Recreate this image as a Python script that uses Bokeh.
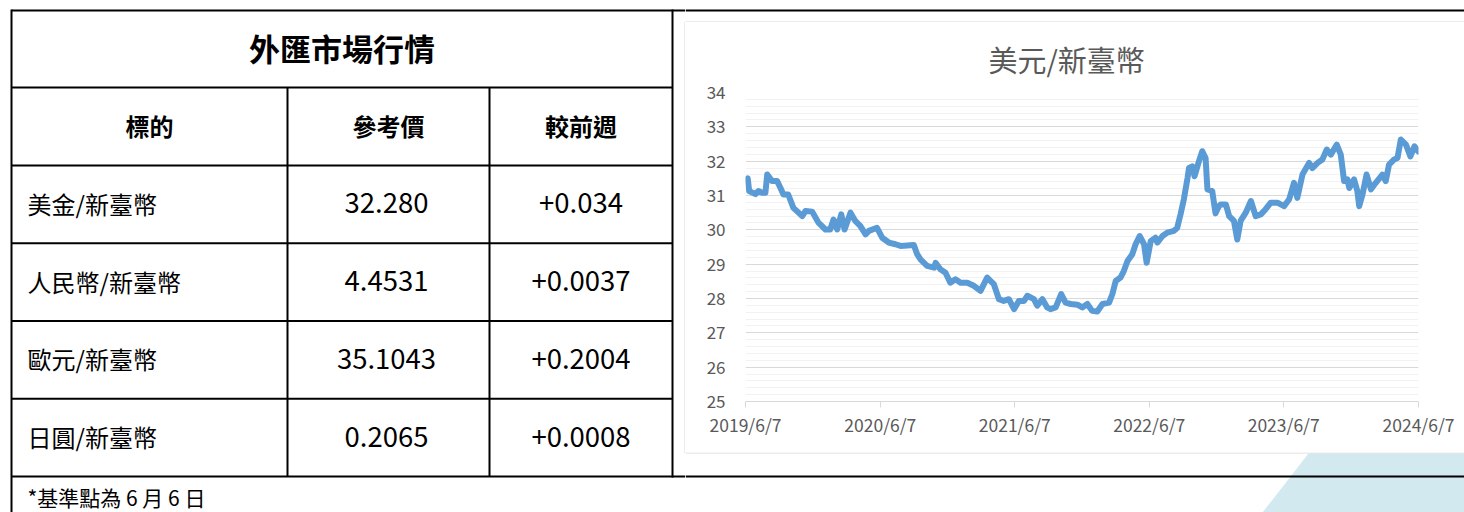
from datetime import datetime
import pandas as pd
from bokeh.plotting import figure
from bokeh.layouts import row, column
from bokeh.models import Range1d, FixedTicker, SingleIntervalTicker, ColumnDataSource
from bokeh.core.properties import value
from bokeh.embed import file_html
from bokeh.resources import INLINE

# ---------------- data ----------------
table_title = "外匯市場行情"
headers = ["標的", "參考價", "較前週"]
pairs = ["美金/新臺幣", "人民幣/新臺幣", "歐元/新臺幣", "日圓/新臺幣"]
ref_prices = ["32.280", "4.4531", "35.1043", "0.2065"]
weekly_change = ["+0.034", "+0.0037", "+0.2004", "+0.0008"]
footnote = "*基準點為 6 月 6 日"

chart_title = "美元/新臺幣"
usd_dates = [
    "2019-06-10", "2019-06-13", "2019-06-17", "2019-07-04", "2019-07-12", "2019-07-22", "2019-07-31", "2019-08-05", "2019-08-18", "2019-09-01",
    "2019-09-10", "2019-09-18", "2019-10-01", "2019-10-15", "2019-10-29", "2019-11-08", "2019-11-17", "2019-12-05", "2019-12-22", "2020-01-10",
    "2020-01-23", "2020-02-01", "2020-02-11", "2020-02-22", "2020-03-02", "2020-03-18", "2020-03-31", "2020-04-14", "2020-04-28", "2020-05-07",
    "2020-05-29", "2020-06-12", "2020-06-30", "2020-07-18", "2020-08-01", "2020-09-06", "2020-09-15", "2020-09-24", "2020-10-12", "2020-10-31",
    "2020-11-04", "2020-11-17", "2020-12-01", "2020-12-14", "2020-12-28", "2021-01-11", "2021-01-29", "2021-02-16", "2021-03-06", "2021-03-24",
    "2021-04-11", "2021-04-25", "2021-05-08", "2021-05-22", "2021-06-05", "2021-06-18", "2021-07-02", "2021-07-11", "2021-07-29", "2021-08-07",
    "2021-08-21", "2021-09-03", "2021-09-12", "2021-09-26", "2021-10-11", "2021-10-23", "2021-11-06", "2021-11-24", "2021-12-07", "2021-12-21",
    "2022-01-03", "2022-01-17", "2022-01-31", "2022-02-18", "2022-02-27", "2022-03-08", "2022-03-21", "2022-03-30", "2022-04-09", "2022-04-22",
    "2022-05-01", "2022-05-12", "2022-05-24", "2022-05-31", "2022-06-11", "2022-06-24", "2022-06-29", "2022-07-13", "2022-07-26", "2022-08-13",
    "2022-08-22", "2022-08-31", "2022-09-09", "2022-09-19", "2022-09-23", "2022-10-02", "2022-10-08", "2022-10-20", "2022-10-29", "2022-11-07",
    "2022-11-12", "2022-11-25", "2022-12-04", "2022-12-13", "2022-12-18", "2023-01-01", "2023-01-10", "2023-01-23", "2023-02-01", "2023-02-10",
    "2023-02-24", "2023-03-10", "2023-03-23", "2023-04-06", "2023-04-19", "2023-05-03", "2023-05-21", "2023-06-08", "2023-06-22", "2023-07-05",
    "2023-07-14", "2023-07-28", "2023-08-15", "2023-08-24", "2023-09-07", "2023-09-20", "2023-10-02", "2023-10-13", "2023-10-29", "2023-11-09",
    "2023-11-18", "2023-11-27", "2023-12-02", "2023-12-15", "2023-12-24", "2023-12-29", "2024-01-07", "2024-01-18", "2024-01-30", "2024-02-12",
    "2024-03-01", "2024-03-10", "2024-03-19", "2024-04-02", "2024-04-11", "2024-04-20", "2024-05-04", "2024-05-16", "2024-05-27", "2024-06-07",
]
usd_values = [
    31.45, 31.50, 31.13, 31.04, 31.13, 31.08, 31.08, 31.61, 31.42, 31.42,
    31.22, 31.03, 31.03, 30.64, 30.50, 30.40, 30.55, 30.53, 30.21, 30.01,
    30.01, 30.30, 30.01, 30.45, 30.01, 30.50, 30.26, 30.11, 29.87, 29.97,
    30.06, 29.77, 29.63, 29.58, 29.53, 29.56, 29.29, 29.14, 28.95, 28.90,
    29.04, 28.85, 28.75, 28.46, 28.56, 28.46, 28.46, 28.37, 28.22, 28.61,
    28.42, 27.98, 27.93, 27.98, 27.69, 27.93, 27.93, 28.08, 27.98, 27.79,
    27.98, 27.74, 27.69, 27.74, 28.13, 27.88, 27.84, 27.82, 27.74, 27.84,
    27.64, 27.62, 27.84, 27.88, 28.13, 28.51, 28.61, 28.80, 29.09, 29.29,
    29.58, 29.82, 29.58, 29.04, 29.67, 29.77, 29.63, 29.82, 29.92, 29.97,
    30.06, 30.45, 30.89, 31.51, 31.80, 31.85, 31.56, 32.00, 32.29, 32.09,
    31.18, 31.13, 30.48, 30.69, 30.74, 30.74, 30.40, 30.26, 29.72, 30.26,
    30.50, 30.84, 30.40, 30.45, 30.60, 30.79, 30.79, 30.69, 30.89, 31.37,
    30.93, 31.61, 31.95, 31.80, 31.95, 32.05, 32.34, 32.19, 32.48, 32.19,
    31.42, 31.47, 31.22, 31.47, 31.13, 30.69, 31.03, 31.61, 31.18, 31.37,
    31.61, 31.42, 31.90, 32.05, 32.09, 32.63, 32.48, 32.14, 32.43, 32.28,
]
tick_dates = ["2019-06-07", "2020-06-07", "2021-06-07", "2022-06-07", "2023-06-07", "2024-06-07"]
tick_labels = ["2019/6/7", "2020/6/7", "2021/6/7", "2022/6/7", "2023/6/7", "2024/6/7"]
y_min, y_max = 25, 34

# ---------------- styling ----------------
FONT = "Noto Sans CJK TC"
CJK = value(FONT)
GRAY_TXT = "#595959"
PANEL = "#d9d9d9"
BLUE_BG = "#d3e9f0"
W, H = 1464, 512
SPLIT = 685            # left edge of the chart panel
PANEL_TOP, PANEL_BOT = 22, 452


def no_align(f):
    if hasattr(f, "frame_align"):
        f.frame_align = False
    return f


def canvas(width, height, x0, x1, ytop, ybot):
    f = figure(width=width, height=height, x_range=Range1d(x0, x1), y_range=Range1d(ybot, ytop),
               toolbar_location=None, output_backend="svg", min_border=0)
    f.axis.visible = False
    f.grid.visible = False
    f.outline_line_color = None
    f.background_fill_color = "white"
    f.border_fill_color = "white"
    return no_align(f)


# ---------------- table (left) ----------------
t = canvas(SPLIT, H, 0, SPLIT, 0, H)
L, R, C1, C2 = 11, 672, 287, 489
top_y, title_bot, head_bot = 10, 87, 165
n = len(pairs)
row_h = (476 - head_bot) / n
row_lines = [head_bot + i * row_h for i in range(n + 1)]
bottom_y = row_lines[-1]

hy = [top_y, title_bot] + row_lines[:-1] + [bottom_y]
hx1 = [SPLIT, R] + [R] * n + [SPLIT]
t.segment(x0=[L] * len(hy), y0=hy, x1=hx1, y1=hy, line_color="black", line_width=2)
t.segment(x0=[L, R, C1, C2], y0=[top_y - 1, top_y - 1, title_bot, title_bot],
          x1=[L, R, C1, C2], y1=[H, bottom_y + 1, bottom_y, bottom_y], line_color="black", line_width=2)
t.segment(x0=[SPLIT - 0.5], y0=[PANEL_TOP - 0.5], x1=[SPLIT - 0.5], y1=[PANEL_BOT + 0.5],
          line_color=PANEL, line_width=1)

t.text(x=[(L + R) / 2], y=[(top_y + title_bot) / 2 - 2], text=[table_title], text_font=CJK,
       text_font_size="31px", text_font_style="bold", text_align="center", text_baseline="middle", text_color="black")
head_x = [(L + C1) / 2, (C1 + C2) / 2, (C2 + R) / 2]
t.text(x=head_x, y=[(title_bot + head_bot) / 2 - 1] * 3, text=headers, text_font=CJK,
       text_font_size="24px", text_font_style="bold", text_align="center", text_baseline="middle", text_color="black")
row_c = [head_bot + (i + 0.5) * row_h - 1 for i in range(n)]
t.text(x=[L + 16] * n, y=row_c, text=pairs, text_font=CJK, text_font_size="24px",
       text_align="left", text_baseline="middle", text_color="black")
t.text(x=[head_x[1] - 2] * n, y=row_c, text=ref_prices, text_font=CJK, text_font_size="27.5px",
       text_align="center", text_baseline="middle", text_color="black")
t.text(x=[head_x[2]] * n, y=row_c, text=weekly_change, text_font=CJK, text_font_size="27.5px",
       text_align="center", text_baseline="middle", text_color="black")
t.text(x=[L + 16], y=[bottom_y + 20], text=[footnote], text_font=CJK, text_font_size="21px",
       text_align="left", text_baseline="middle", text_color="black")

# ---------------- right column ----------------
CW = W - SPLIT
ts = canvas(CW, PANEL_TOP, SPLIT, W, 0, PANEL_TOP)
ts.segment(x0=[SPLIT], y0=[top_y], x1=[W], y1=[top_y], line_color="black", line_width=2)
ts.segment(x0=[SPLIT - 1], y0=[PANEL_TOP - 0.5], x1=[W], y1=[PANEL_TOP - 0.5], line_color=PANEL, line_width=1)

src = ColumnDataSource(dict(date=pd.to_datetime(usd_dates), val=usd_values))
epoch = datetime(1970, 1, 1)
tick_ms = [(datetime.strptime(d, "%Y-%m-%d") - epoch).total_seconds() * 1000.0 for d in tick_dates]

p = figure(width=CW, height=PANEL_BOT - PANEL_TOP, x_axis_type="datetime",
           x_range=Range1d(tick_ms[0], tick_ms[-1]), y_range=Range1d(y_min, y_max),
           toolbar_location=None, output_backend="svg",
           min_border_left=60, min_border_right=46, min_border_top=69, min_border_bottom=51)
no_align(p)
p.outline_line_color = None
p.background_fill_color = "white"
p.border_fill_color = "white"

p.title.text = chart_title
p.title.text_font = FONT
p.title.text_font_size = "29px"
p.title.text_font_style = "normal"
p.title.text_color = GRAY_TXT
p.title.align = "left"
p.title.offset = 243
p.title.standoff = 26

p.line(x="date", y="val", source=src, line_color="#5b9bd5", line_width=6,
       line_join="round", line_cap="round")

p.yaxis.ticker = SingleIntervalTicker(interval=1, num_minor_ticks=5)
p.yaxis.axis_line_color = None
p.yaxis.major_tick_line_color = None
p.yaxis.minor_tick_line_color = None
p.yaxis.major_tick_out = 0
p.yaxis.major_tick_in = 0
p.yaxis.major_label_standoff = 16
p.yaxis.major_label_text_font = FONT
p.yaxis.major_label_text_font_size = "17px"
p.yaxis.major_label_text_color = GRAY_TXT

p.xaxis.ticker = FixedTicker(ticks=tick_ms, minor_ticks=[])
p.xaxis.major_label_overrides = {ms: lab for ms, lab in zip(tick_ms, tick_labels)}
p.xaxis.axis_line_color = PANEL
p.xaxis.major_tick_line_color = PANEL
p.xaxis.minor_tick_line_color = None
p.xaxis.major_tick_out = 6
p.xaxis.major_tick_in = 0
p.xaxis.major_label_standoff = 4
p.xaxis.major_label_text_font = FONT
p.xaxis.major_label_text_font_size = "17.5px"
p.xaxis.major_label_text_color = GRAY_TXT

p.xgrid.grid_line_color = None
p.ygrid.grid_line_color = PANEL
p.ygrid.minor_grid_line_color = "#f2f2f2"

bs = canvas(CW, H - PANEL_BOT, SPLIT, W, PANEL_BOT, H)
bs.patch(x=[1308, W, W, 1262], y=[PANEL_BOT + 1, PANEL_BOT + 1, H, H], fill_color=BLUE_BG, line_color=None)
bs.segment(x0=[SPLIT - 1], y0=[PANEL_BOT + 0.5], x1=[W], y1=[PANEL_BOT + 0.5], line_color=PANEL, line_width=1)
bs.segment(x0=[SPLIT], y0=[bottom_y], x1=[W], y1=[bottom_y], line_color="black", line_width=2)

layout = row(t, column(ts, p, bs))
open("out.html", "w").write(file_html(layout, INLINE))
